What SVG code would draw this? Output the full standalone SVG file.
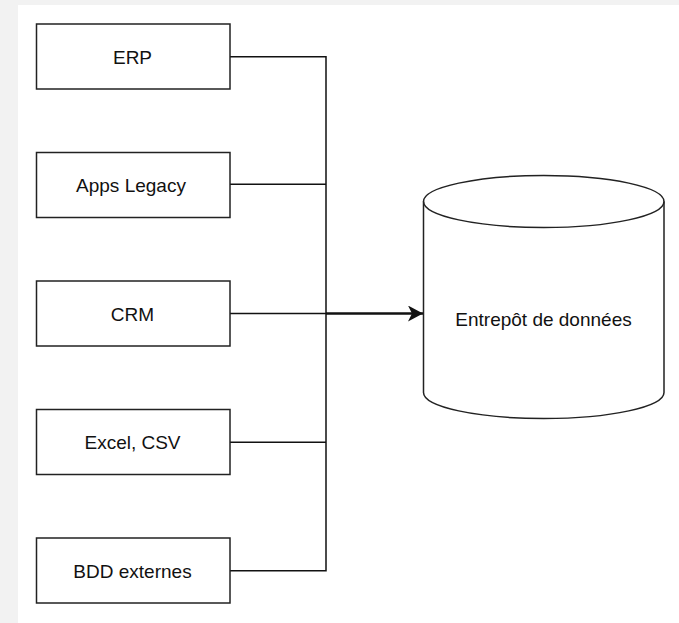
<svg xmlns="http://www.w3.org/2000/svg" width="679" height="623" viewBox="0 0 679 623">
<style>
.box{fill:#fff;stroke:#222;stroke-width:1.5}
.lbl{font-family:"Liberation Sans",Arial,sans-serif;font-size:19px;fill:#111;text-anchor:middle}
.edge{fill:none;stroke:#111;stroke-width:1.5}
</style>
<defs>
<marker id="arr" markerUnits="userSpaceOnUse" markerWidth="20" markerHeight="20" refX="15" refY="8" orient="auto">
<path d="M0,0 L15,8 L0,16 L4,8 Z" fill="#111"/>
</marker>
</defs>
<rect x="0" y="0" width="679" height="623" fill="#f2f2f2"/>
<rect x="18" y="5" width="661" height="618" fill="#fff"/>
<g id="connectors">
<path class="edge" d="M230,56.7 H326 V570.7 H230"/>
<path class="edge" d="M230,184.3 H326"/>
<path class="edge" d="M230,313.5 H326"/>
<path class="edge" d="M230,442.3 H326"/>
<path d="M326,313.5 H423" fill="none" stroke="#111" stroke-width="2.5" marker-end="url(#arr)"/>
</g>
<g id="erp"><rect class="box" x="36.5" y="24" width="193.5" height="65"/><text class="lbl" x="132.5" y="63.5">ERP</text></g>
<g id="apps"><rect class="box" x="36.5" y="152.5" width="193.5" height="65"/><text class="lbl" x="131" y="192">Apps Legacy</text></g>
<g id="crm"><rect class="box" x="36.5" y="281" width="193.5" height="65"/><text class="lbl" x="132.5" y="320.5">CRM</text></g>
<g id="excel"><rect class="box" x="36.5" y="409.5" width="193.5" height="65"/><text class="lbl" x="132.5" y="449">Excel, CSV</text></g>
<g id="bdd"><rect class="box" x="36.5" y="538" width="193.5" height="65"/><text class="lbl" x="132.5" y="577.5">BDD externes</text></g>
<g id="entrepot">
<path class="box" d="M423.5,201.5 A120.25,26 0 0 1 664,201.5 V392.5 A120.25,26 0 0 1 423.5,392.5 Z"/>
<path fill="none" stroke="#222" stroke-width="1.5" d="M423.5,201.5 A120.25,26 0 0 0 664,201.5"/>
<text class="lbl" x="543.5" y="325.7">Entrepôt de données</text>
</g>
</svg>
